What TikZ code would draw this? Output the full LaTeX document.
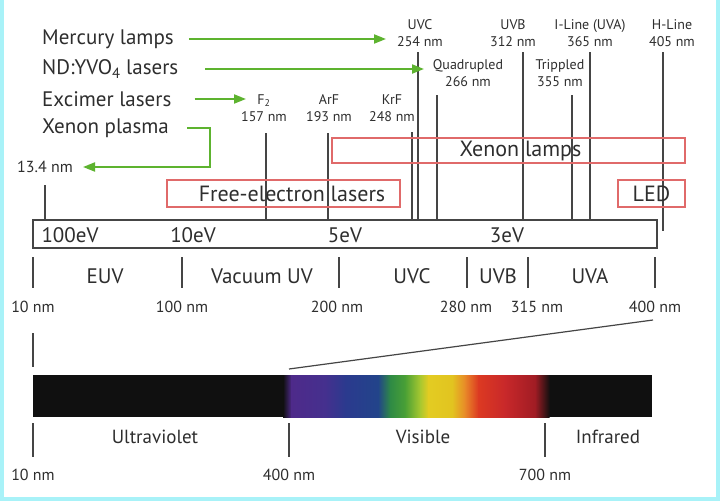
\documentclass[tikz,border=0pt]{standalone}
\usepackage{fontspec}
\setmainfont{PT Sans}
\usetikzlibrary{arrows.meta}
\definecolor{framecyan}{HTML}{A8F2F8}
\definecolor{feedgreen}{HTML}{5DB32F}
\definecolor{lampred}{HTML}{E06A6A}
\definecolor{linegray}{HTML}{454545}
\definecolor{inkgray}{HTML}{2E2E2E}
\definecolor{sp0}{HTML}{101010}
\definecolor{sp1}{HTML}{4E2A8A}
\definecolor{sp2}{HTML}{45308E}
\definecolor{sp3}{HTML}{2B3A8E}
\definecolor{sp4}{HTML}{22448A}
\definecolor{sp5}{HTML}{2E8A45}
\definecolor{sp6}{HTML}{4AA035}
\definecolor{sp7}{HTML}{A8C830}
\definecolor{sp8}{HTML}{E3CC22}
\definecolor{sp9}{HTML}{E2C420}
\definecolor{sp10}{HTML}{E88828}
\definecolor{sp11}{HTML}{DC3A22}
\definecolor{sp12}{HTML}{C8282A}
\definecolor{sp13}{HTML}{A01C24}
\definecolor{sp14}{HTML}{121010}
\begin{document}
\begin{tikzpicture}
[x=1pt, y=-1pt, text=inkgray]
\tikzstyle{big}=[inner sep=0pt, font=\fontsize{21}{21}\selectfont]
\tikzstyle{tag}=[inner sep=0pt, align=center, font=\fontsize{14}{17}\selectfont]
\tikzstyle{nm}=[inner sep=0pt, font=\fontsize{16}{16}\selectfont]
\tikzstyle{band}=[inner sep=0pt, font=\fontsize{19}{19}\selectfont]
\tikzstyle{wl}=[draw=linegray, line width=1.4pt]
\tikzstyle{feed}=[draw=feedgreen, line width=2pt, -{Triangle[length=12pt, width=9pt]}]
\tikzstyle{lampbox}=[draw=lampred, line width=1.4pt, inner sep=0pt, font=\fontsize{22}{22}\selectfont]
\tikzstyle{ebox}=[draw=linegray, line width=1.2pt, inner sep=0pt]

% frame
\fill[framecyan] (0,0) rectangle (720,501);
\fill[white] (4,0) rectangle (716,497);

% sources
\node[big, anchor=west]	(merc)		at (42,39)	{Mercury lamps};
\node[big, anchor=west]	(ndyvo)		at (42,69)	{ND:YVO\textsubscript{4} lasers};
\node[big, anchor=west]	(excim)		at (42,99)	{Excimer lasers};
\node[big, anchor=west]	(xeplas)	at (42,128)	{Xenon plasma};
\node[nm, anchor=west]	(euvnm)		at (17,167)	{13.4 nm};

% lines and their labels
\node[tag]	(l157)	at (264,108)	{F\textsubscript{2}\\157 nm};
\node[tag]	(l193)	at (329,108)	{ArF\\193 nm};
\node[tag]	(l248)	at (392,108)	{KrF\\248 nm};
\node[tag]	(l254)	at (420,33)	{UVC\\254 nm};
\node[tag]	(l266)	at (468,73)	{Quadrupled\\266 nm};
\node[tag]	(l312)	at (513,33)	{UVB\\312 nm};
\node[tag]	(l355)	at (560,73)	{Trippled\\355 nm};
\node[tag]	(l365)	at (590,33)	{I-Line (UVA)\\365 nm};
\node[tag]	(l405)	at (672,33)	{H-Line\\405 nm};

\foreach \nm/\x/\ytop/\ybot in {157/266/133/220, 193/328/133/220, 248/412/132/220, 254/418/52/220,
	266/437/95/220, 312/523/52/220, 355/572/95/220, 365/590/52/220, 405/663/52/231, 134/45/185/220}
{
	\coordinate (t\nm) at (\x,\ytop);
	\coordinate (b\nm) at (\x,\ybot);
	\draw[wl] (t\nm) -- (b\nm);
}

% arrows
\coordinate (hgtip)	at (386,39);
\coordinate (ndtip)	at (424,69);
\coordinate (extip)	at (246,99);
\coordinate (xebend)	at (210,167);
\draw[feed] ([xshift=15pt]merc.east) -- (hgtip);
\draw[feed] ([xshift=27pt]ndyvo.east) -- (ndtip);
\draw[feed] ([xshift=23pt]excim.east) -- (extip);
\draw[feed] ([xshift=18pt]xeplas.east) -| (xebend) -- ([xshift=10pt]euvnm.east);

% sources as ranges
\node[lampbox, minimum width=353pt, minimum height=25pt]	(xelamp)	at (508.5,150.5)	{\hspace*{24pt}Xenon lamps};
\node[lampbox, minimum width=233pt, minimum height=27pt]	(fel)		at (283.5,193.5)	{\hspace*{17pt}Free-electron lasers};
\node[lampbox, minimum width=67pt, minimum height=27pt]	(led)		at (651.5,193.5)	{LED};

% energy scale
\node[ebox, minimum width=624pt, minimum height=28pt]	(escale)	at (345,234)	{};
\node[big]	(e100)	at (70,235)	{100eV};
\node[big]	(e10)	at (193,235)	{10eV};
\node[big]	(e5)	at (345,235)	{5eV};
\node[big]	(e3)	at (507,235)	{3eV};

% bands
\foreach \x/\nmx/\lab in {33/33/10 nm, 182/182/100 nm, 339/337/200 nm, 467/466/280 nm, 528/537/315 nm, 655/655/400 nm}
{
	\draw[wl, line width=1.2pt] (\x,257) -- (\x,288);
	\node[nm] at (\nmx,307) {\lab};
}
\node[big]	(euv)	at (105,276)	{EUV};
\node[big]	(vuv)	at (262,276)	{Vacuum UV};
\node[big]	(uvc)	at (412,276)	{UVC};
\node[big]	(uvb)	at (498,276)	{UVB};
\node[big]	(uva)	at (590,276)	{UVA};

% zoom to spectrum
\coordinate (z400)	at (653,320);
\coordinate (v400)	at (289,369);
\draw[wl, line width=1.2pt] (z400) -- (v400);
\coordinate (u10)	at (33,333);
\coordinate (u10b)	at (33,367);
\draw[wl, line width=1.2pt] (u10) -- (u10b);

% spectrum
\fill[sp0] (33,375) rectangle (652,417);
\foreach \xa/\xb/\ca/\cb in {283/291/sp0/sp1, 291/325/sp1/sp2, 325/345/sp2/sp3, 345/378/sp3/sp4,
	378/390/sp4/sp5, 390/405/sp5/sp6, 405/420/sp6/sp7, 420/428/sp7/sp8, 428/452/sp8/sp9,
	452/465/sp9/sp10, 465/478/sp10/sp11, 478/505/sp11/sp12, 505/535/sp12/sp13, 535/549/sp13/sp14}
	\shade[left color=\ca, right color=\cb] (\xa,375) rectangle (\xb+0.5,417);

\foreach \x/\lab in {33/10 nm, 289/400 nm, 545/700 nm}
{
	\draw[wl, line width=1.2pt] (\x,423) -- (\x,457);
	\node[nm] at (\x,475) {\lab};
}
\node[band]	(uvlab)	at (155,437)	{Ultraviolet};
\node[band]	(vislab)	at (423,437)	{Visible};
\node[band]	(irlab)	at (608,437)	{Infrared};
\end{tikzpicture}
\end{document}
